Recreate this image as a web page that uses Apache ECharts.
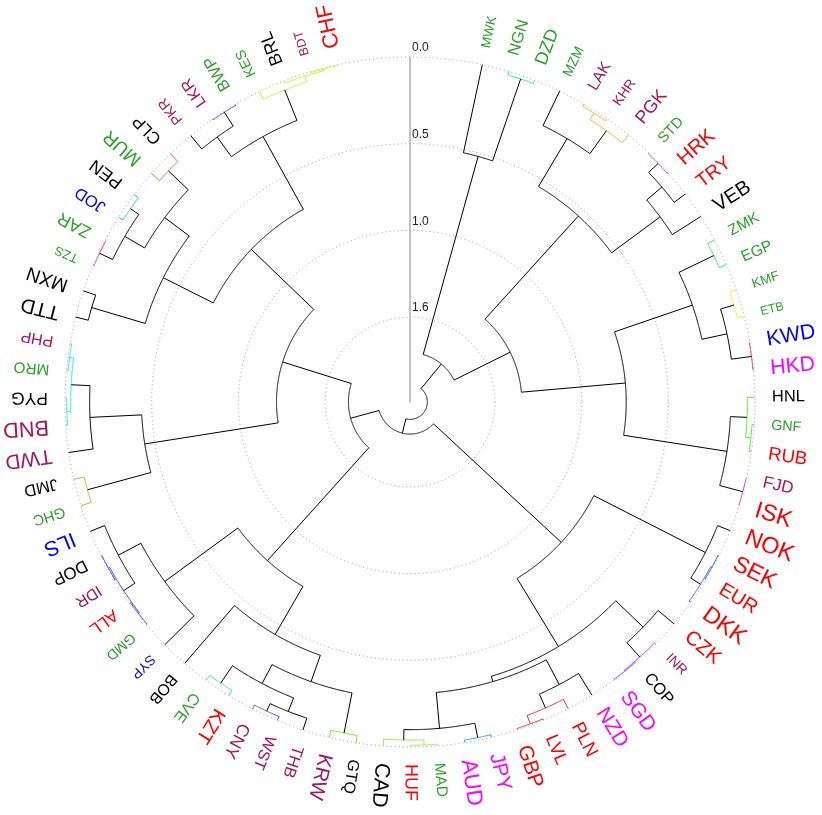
<!DOCTYPE html>
<html>
<head>
<meta charset="utf-8">
<script src="https://cdn.jsdelivr.net/npm/echarts@6/dist/echarts.min.js"></script>
<style>html,body{margin:0;padding:0;background:#fff}#chart{width:822px;height:815px}</style>
</head>
<body>
<div id="chart"></div>
<script>
// ---------- DATA ----------
const leaves = ['MWK','NGN','DZD','MZM','LAK','KHR','PGK','STD','HRK','TRY','VEB','ZMK','EGP','KMF','ETB',
  'KWD','HKD','HNL','GNF','RUB','FJD','ISK','NOK','SEK','EUR','DKK','CZK','INR','COP','SGD','NZD','PLN',
  'LVL','GBP','JPY','AUD','MAD','HUF','CAD','GTQ','KRW','THB','WST','CNY','KZT','CVE','BOB','SYP','GMD',
  'ALL','IDR','DOP','ILS','GHC','JMD','TWD','BND','PYG','MRO','PHP','TTD','MXN','TZS','ZAR','JOD','PEN',
  'MUR','CLP','PKR','LKR','BWP','KES','BRL','BDT','CHF'];
// region group of each leaf (drives label colour)
const leafRegion = ['af','af','af','af','as','as','as','af','eu','eu','am','af','af','af','af',
  'me','ap','am','af','eu','as','eu','eu','eu','eu','eu','eu','as','am','ap','ap','eu',
  'eu','eu','ap','ap','af','eu','am','am','as','as','as','as','eu','af','am','me','af',
  'eu','as','am','me','af','am','as','as','am','af','as','am','am','af','af','me','am',
  'af','am','as','as','af','af','am','as','eu'];
// agglomerative merges: each entry joins two leaves (names) or earlier merges (indices)
const merges = [
  ['NGN','DZD'], ['MWK',0], ['LAK','KHR'], [2,'PGK'], ['MZM',3], ['STD','HRK'], [5,'TRY'], [6,'VEB'],
  [4,7], ['ZMK','EGP'], ['KMF','ETB'], ['KWD','HKD'], [10,11], [9,12], ['GNF','RUB'], ['HNL',14],
  ['FJD','ISK'], [15,16], [13,17], [8,18], [1,19], ['SEK','EUR'], [21,'DKK'], ['NOK',22],
  ['COP','SGD'], ['INR',24], ['CZK',25], ['LVL','GBP'], ['PLN',27], ['NZD',28], ['JPY','AUD'],
  ['MAD','HUF'], [31,'CAD'], [30,32], [29,33], [26,34], [23,35], ['GTQ','KRW'], ['WST','CNY'],
  ['THB',38], ['KZT','CVE'], [39,40], [37,41], [42,'BOB'], ['GMD','ALL'], ['IDR','DOP'], [44,45],
  [46,'ILS'], ['SYP',47], [43,48], ['GHC','JMD'], ['BND','PYG'], ['MRO','PHP'], [51,52], ['TWD',53],
  [50,54], ['TTD','MXN'], ['TZS','ZAR'], ['JOD','PEN'], [57,58], ['MUR','CLP'], [59,60], [56,61],
  ['LKR','BWP'], ['PKR',63], ['BDT','CHF'], ['BRL',65], ['KES',66], [64,67], [62,68], [55,69],
  [49,70], [36,71], [20,72]
];
const mergeHeights = [
  0.02, 0.52, 0.015, 0.058, 0.221, 0.005, 0.08, 0.195,
  0.543, 0.045, 0.04, 0.003, 0.12, 0.268, 0.013, 0.044,
  0.002, 0.14, 0.743, 1.345, 1.706, 0.005, 0.012, 0.078,
  0.004, 0.01, 0.121, 0.008, 0.06, 0.147, 0.015,
  0.01, 0.04, 0.1, 0.308, 0.34, 0.80, 0.043, 0.025,
  0.072, 0.035, 0.156, 0.279, 0.44, 0.005, 0.004, 0.012,
  0.09, 0.237, 0.76, 0.062, 0.01, 0.01, 0.033, 0.142,
  0.441, 0.075, 0.005, 0.03, 0.088, 0.062, 0.22, 0.397,
  0.005, 0.1, 0.005, 0.015, 0.05, 0.24, 0.72, 1.22,
  1.635, 1.805, 1.89
];
const tickValues = [0, 0.5, 1.0, 1.5];
const tickLabels = ['0.0', '0.5', '1.0', '1.6'];

// ---------- STYLE ----------
const regionColors = {af:'#2ca02c', as:'#a3165a', eu:'#ff0000', am:'#000000', me:'#0000ff', ap:'#ff00ff'};
const labelFontSize = [12.5,15.5,17,13,15,13,17,14,19,18,19,14.5,14.5,12.5,11.5,
  20,20,15.5,13.5,17.5,16,22,22,21.5,18.5,22,19,13,15.5,19.5,19.5,17.5,
  17,19.5,19.5,21,14.5,17,20,15,19,15.5,15,16.5,18.5,15,15,13,13.5,
  16,15,16,20,14,15.5,19.5,20.5,16.5,14.5,15,19,18,12,16.5,15.5,16.5,
  18,16,13.5,15,15.5,13.5,17,12,20.5];
const labelScale = 1.06;
const clusterPalette = ['#2ee6a8','#f7b32b','#e83ce8','#33ee66','#eeee33','#e8336e','#55ee33','#f03ca8',
  '#3366ee','#a040ee','#ee3333','#3399ee','#99ee55','#77ee33','#6655ee','#33e8cc','#3344ee','#f5a040',
  '#33e8ee','#ee33ee','#33bbee','#ff6633','#9933ee','#ccee33'];
const colorCut = 0.067;
const FONT = '"Liberation Sans", Arial, Helvetica, sans-serif';

// ---------- LAYOUT (from data) ----------
const leafIdx = {}; leaves.forEach((n, i) => leafIdx[n] = i);
const nodePos = [], nodeMin = [], parent = [];
function ref(r) {
  if (typeof r === 'string') return {pos: leafIdx[r], h: 0, min: leafIdx[r]};
  return {pos: nodePos[r], h: mergeHeights[r], min: nodeMin[r]};
}
const branchData = [];
merges.forEach((m, k) => {
  const a = ref(m[0]), b = ref(m[1]);
  nodePos[k] = (a.pos + b.pos) / 2;
  nodeMin[k] = Math.min(a.min, b.min);
  m.forEach(c => { if (typeof c === 'number') parent[c] = k; });
  branchData.push([mergeHeights[k], a.pos, b.pos, a.h, b.h, k]);
});
function clusterRoot(k) {
  while (parent[k] !== undefined && mergeHeights[parent[k]] < colorCut) k = parent[k];
  return k;
}
const roots = [];
merges.forEach((m, k) => { if (mergeHeights[k] < colorCut && clusterRoot(k) === k) roots.push(k); });
roots.sort((p, q) => nodeMin[p] - nodeMin[q]);
const rootColor = {}; roots.forEach((k, j) => rootColor[k] = clusterPalette[j % clusterPalette.length]);
const nodeColor = merges.map((m, k) => mergeHeights[k] < colorCut ? rootColor[clusterRoot(k)] : '#000000');

const R_MAX = 1.99;
const angMin = -2.6675, angMax = 76.698;

const chart = echarts.init(document.getElementById('chart'), null, {renderer: 'canvas'});
chart.setOption({
  backgroundColor: '#ffffff',
  animation: false,
  polar: {center: [410, 402], radius: [0, 345]},
  angleAxis: {type: 'value', min: angMin, max: angMax, startAngle: 90, clockwise: true, show: false},
  radiusAxis: {
    type: 'value', min: 0, max: R_MAX, interval: 0.5, inverse: true,
    axisLine: {show: true, lineStyle: {color: '#b0b0b0', width: 1.5}},
    axisTick: {show: false},
    axisLabel: {
      show: true, margin: -2, align: 'left', verticalAlign: 'bottom',
      color: '#222', fontSize: 12, fontFamily: FONT, padding: [0, 0, 3, 0],
      formatter: v => { const j = tickValues.findIndex(t => Math.abs(t - v) < 1e-6); return j >= 0 ? tickLabels[j] : ''; }
    },
    splitLine: {show: true, lineStyle: {color: '#999999', width: 1, type: [1, 3]}}
  },
  series: [
    {
      type: 'custom', coordinateSystem: 'polar', silent: true,
      data: branchData,
      renderItem: function (params, api) {
        const h = api.value(0), a = api.value(1), b = api.value(2), ha = api.value(3), hb = api.value(4), k = api.value(5);
        const pts = [api.coord([ha, a])];
        const n = Math.max(2, Math.ceil(Math.abs(b - a) / 0.04));
        for (let s = 0; s <= n; s++) pts.push(api.coord([h, a + (b - a) * s / n]));
        pts.push(api.coord([hb, b]));
        return {type: 'polyline', shape: {points: pts}, style: {stroke: nodeColor[k], lineWidth: 1, fill: null}};
      }
    },
    {
      type: 'custom', coordinateSystem: 'polar', silent: true,
      data: leaves.map((n, i) => [0, i]),
      renderItem: function (params, api) {
        const i = api.value(1);
        const tip = api.coord([0, i]);
        const c = api.coord([R_MAX, i]);
        const dx = tip[0] - c[0], dy = tip[1] - c[1], len = Math.hypot(dx, dy);
        const ux = dx / len, uy = dy / len, gap = 17;
        return {
          type: 'text', x: tip[0] + ux * gap, y: tip[1] + uy * gap, rotation: Math.atan2(-uy, ux),
          style: {text: leaves[i], fill: regionColors[leafRegion[i]], fontSize: labelFontSize[i] * labelScale,
            fontFamily: FONT, align: 'left', verticalAlign: 'middle'}
        };
      }
    }
  ]
});
</script>
</body>
</html>
